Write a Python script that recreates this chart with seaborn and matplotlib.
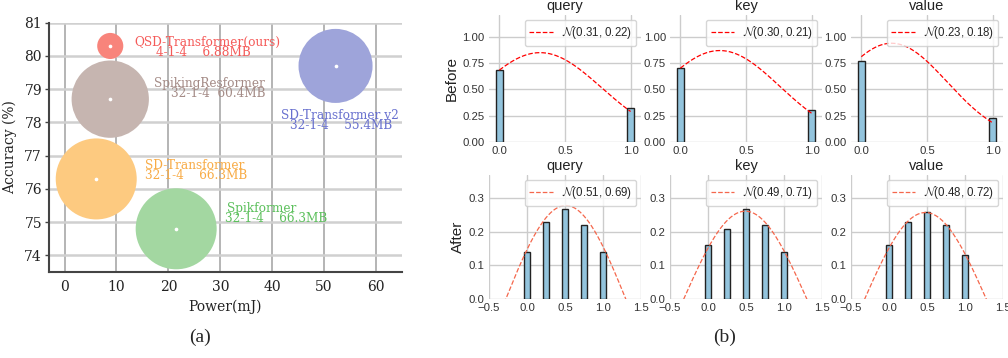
import numpy as np
import pandas as pd
import seaborn as sns
import matplotlib.pyplot as plt

# DATOS PANEL (a): EFICIENCIA DE LOS MODELOS
modelos = ['QSD-Transformer(ours)', 'SpikingResformer', 'SD-Transformer v2', 'SD-Transformer', 'Spikformer']
configuracion = ['4-1-4    6.88MB', '32-1-4  60.4MB', '32-1-4    55.4MB', '32-1-4    66.3MB', '32-1-4    66.3MB']
tamano_mb = [6.88, 60.4, 55.4, 66.3, 66.3]
potencia = [8.8, 8.8, 52.2, 6.1, 21.5]
precision = [80.3, 78.7, 79.7, 76.3, 74.8]

# DATOS PANEL (b): DISTRIBUCIONES ANTES / DESPUÉS
columnas = ['query', 'key', 'value']
niveles_antes = [0.0, 1.0]
antes = [[0.68, 0.32], [0.70, 0.30], [0.77, 0.23]]
media_antes = [0.31, 0.30, 0.23]
var_antes = [0.22, 0.21, 0.18]

niveles_despues = [0.0, 0.25, 0.5, 0.75, 1.0]
despues = [[0.14, 0.23, 0.27, 0.22, 0.14],
           [0.16, 0.21, 0.27, 0.22, 0.14],
           [0.16, 0.23, 0.26, 0.22, 0.13]]
media_despues = [0.51, 0.49, 0.48]
var_despues = [0.69, 0.71, 0.72]
pico_despues = [0.279, 0.262, 0.258]   # altura máxima de la curva
corte_despues = [0.79, 0.81, 0.80]     # distancia a la media donde la curva corta el 0

# ESTILO
colores_burbuja = ['#f8847b', '#c6b5b0', '#9ea4da', '#fdca80', '#a3d7a1']
colores_texto = ['#f55a58', '#a48b86', '#6870cf', '#f8ab45', '#5cc05c']
# posiciones (x, y) de la primera y segunda línea de cada etiqueta
pos_linea1 = [(13.4, 80.40), (17.3, 79.18), (41.7, 78.21), (15.5, 76.71), (31.3, 75.41)]
pos_linea2 = [(17.6, 80.10), (20.5, 78.86), (43.4, 77.90), (15.5, 76.41), (30.9, 75.11)]

sns.set_theme(style='whitegrid')
plt.rcParams['font.family'] = ['Liberation Sans', 'DejaVu Sans']
plt.rcParams['mathtext.fontset'] = 'cm'
serif = 'DejaVu Serif'

fig = plt.figure(figsize=(10.08, 3.58), dpi=100)

# ---------------- PANEL (a) ----------------
ax = fig.add_axes([0.0486, 0.2402, 0.3502, 0.6964])
ax.set_facecolor('white')
ax.set_axisbelow(True)
ax.grid(axis='y', color='#d0d0d0', linewidth=1.8)
ax.grid(axis='x', color='#a8a8a8', linewidth=1.2)

k = 51.3  # puntos^2 por MB
sns.scatterplot(x=potencia, y=precision, hue=modelos, palette=dict(zip(modelos, colores_burbuja)),
                size=tamano_mb, sizes=(min(tamano_mb) * k, max(tamano_mb) * k),
                linewidth=0, alpha=1, legend=False, ax=ax, zorder=3)
sns.scatterplot(x=potencia, y=precision, color='white', s=7, linewidth=0, legend=False, ax=ax, zorder=4)

for i in range(len(modelos)):
    ax.text(pos_linea1[i][0], pos_linea1[i][1], modelos[i], color=colores_texto[i],
            fontsize=8.7, family=serif, va='center', ha='left', zorder=5)
    ax.text(pos_linea2[i][0], pos_linea2[i][1], configuracion[i], color=colores_texto[i],
            fontsize=8.7, family=serif, va='center', ha='left', zorder=5)

ax.set_xlim(-3, 65)
ax.set_ylim(73.5, 81)
ax.set_xticks(range(0, 61, 10))
ax.set_yticks(range(74, 82))
ax.set_xlabel('Power(mJ)', family=serif, fontsize=10, color='#222222', labelpad=4)
ax.set_ylabel('Accuracy (%)', family=serif, fontsize=10, color='#222222', labelpad=5)
ax.tick_params(axis='y', left=True, length=3, width=1, color='#444444', labelsize=10, labelcolor='#222222', pad=2)
ax.tick_params(axis='x', length=0, labelsize=10, labelcolor='#222222', pad=6)
for lbl in ax.get_xticklabels() + ax.get_yticklabels():
    lbl.set_fontfamily(serif)
for lado in ['top', 'right']:
    ax.spines[lado].set_visible(False)
for lado in ['left', 'bottom']:
    ax.spines[lado].set_color('#444444')
    ax.spines[lado].set_linewidth(1.5)

# ---------------- PANEL (b) ----------------
izq = [0.4851, 0.6647, 0.8442]
ancho = 0.1508
color_barra = '#93c4dd'


def bordes(niveles):
    niveles = np.array(niveles)
    paso = niveles[1] - niveles[0]
    return list(np.append(niveles - paso / 2, niveles[-1] + paso / 2))


def estilo_panel(ax, col, ylabel):
    ax.set_title(col, fontsize=10.5, pad=3.5, color='#222222')
    ax.set_xlabel('')
    ax.set_ylabel(ylabel, fontsize=11, labelpad=3, color='#222222')
    ax.tick_params(length=0, labelsize=8.2, pad=3, labelcolor='#333333')
    ax.legend(loc='upper right', fontsize=8.3, handlelength=2.0, borderaxespad=0.4)
    for s in ax.spines.values():
        s.set_visible(False)


for j, col in enumerate(columnas):
    # FILA SUPERIOR: ANTES
    ax = fig.add_axes([izq[j], 0.6042, ancho, 0.3539])
    df = pd.DataFrame({'nivel': niveles_antes, 'prob': antes[j]})
    sns.histplot(data=df, x='nivel', weights='prob', bins=bordes(niveles_antes), shrink=0.053,
                 color=color_barra, alpha=1, edgecolor='#222222', linewidth=1, ax=ax)
    sigma = np.sqrt(var_antes[j])
    xs = np.linspace(0, 1, 200)
    ys = np.exp(-(xs - media_antes[j]) ** 2 / (2 * sigma ** 2)) / (sigma * np.sqrt(2 * np.pi))
    sns.lineplot(x=xs, y=ys, color='red', linestyle='--', linewidth=0.9, ax=ax,
                 label=rf'$\mathcal{{N}}$({media_antes[j]:.2f}, {var_antes[j]:.2f})')
    ax.set_ylim(0, 1.21)
    ax.set_yticks([0, 0.25, 0.5, 0.75, 1.0])
    ax.set_yticklabels(['0.00', '0.25', '0.50', '0.75', '1.00'])
    ax.set_xticks([0, 0.5, 1.0])
    ax.set_xticklabels(['0.0', '0.5', '1.0'])
    estilo_panel(ax, col, 'Before' if j == 0 else '')

    # FILA INFERIOR: DESPUÉS
    ax = fig.add_axes([izq[j], 0.1648, ancho, 0.3464])
    df = pd.DataFrame({'nivel': niveles_despues, 'prob': despues[j]})
    sns.histplot(data=df, x='nivel', weights='prob', bins=bordes(niveles_despues), shrink=0.35,
                 color=color_barra, alpha=1, edgecolor='#222222', linewidth=1, ax=ax)
    sigma = np.sqrt(var_despues[j])
    xs = np.linspace(-0.5, 1.5, 300)
    g = np.exp(-(xs - media_despues[j]) ** 2 / (2 * sigma ** 2))
    g_corte = np.exp(-corte_despues[j] ** 2 / (2 * sigma ** 2))
    amp = pico_despues[j] / (1 - g_corte)
    ys = amp * g - amp * g_corte
    sns.lineplot(x=xs, y=ys, color='#f5674c', linestyle='--', linewidth=0.9, ax=ax,
                 label=rf'$\mathcal{{N}}$({media_despues[j]:.2f}, {var_despues[j]:.2f})')
    ax.set_xlim(-0.5, 1.5)
    ax.set_ylim(0, 0.37)
    ax.set_yticks([0, 0.1, 0.2, 0.3])
    ax.set_xticks([-0.5, 0, 0.5, 1.0, 1.5])
    estilo_panel(ax, col, 'After' if j == 0 else '')

fig.text(200 / 1008, 1 - 337 / 358, '(a)', family='Liberation Serif', fontsize=14, ha='center', va='center')
fig.text(725 / 1008, 1 - 337 / 358, '(b)', family='Liberation Serif', fontsize=14, ha='center', va='center')

fig.savefig('out.png', dpi=100)
